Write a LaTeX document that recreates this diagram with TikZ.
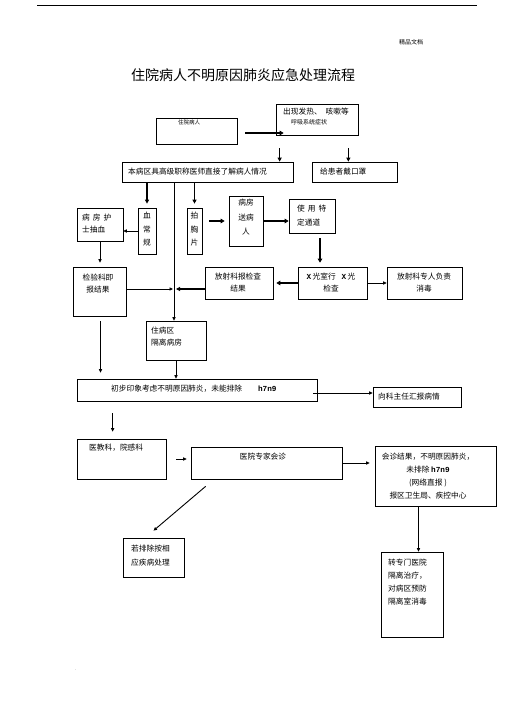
\documentclass[tikz,border=0pt]{standalone}
\usepackage{fontspec}
\newfontfamily\cjk{Noto Sans CJK SC}
\newfontfamily\mb{Liberation Mono}
\usetikzlibrary{arrows.meta,shadows}
% a box by its top-left corner, width and height (in px of the page)
\newcommand{\bx}[5]{%
  \node[box, minimum width=#4pt, minimum height=#5pt] (#1) at ({#2+#4/2},{#3+#5/2}) {};}

\begin{document}
\begin{tikzpicture}[
    x=1pt, y=-1pt,
    box/.style={rectangle, draw=black, fill=white, line width=0.7pt, inner sep=0pt,
      drop shadow={shadow xshift=0.7pt, shadow yshift=-0.7pt, opacity=0.7, fill=black}},
    txt/.style={font=\cjk\fontsize{7.7}{#1}\selectfont, inner sep=0pt, align=left},
    txt/.default=13,
    ctr/.style={txt=#1, align=center},
    ctr/.default=13,
    arr/.style={-{Triangle[length=3.5pt,width=3.2pt]}, line width=0.7pt},
    mid/.style={-{Triangle[length=4pt,width=4pt]}, line width=1.3pt},
    fat/.style={-{Triangle[length=4pt,width=4.6pt]}, line width=2.2pt},
  ]
  \useasboundingbox (0,0) rectangle (505,714);

  %% ================= page head =================
  \draw[line width=1pt] (37,6) -- (477,6);
  \node[txt, font=\cjk\fontsize{6}{7}\selectfont] (hdr) at (411,42) {精品文档};
  \node[txt, font=\cjk\fontsize{14}{16}\selectfont] (title) at (243,75) {住院病人不明原因肺炎应急处理流程};

  %% ================= boxes =================
  \bx{zyb}{156}{118}{81}{26}
  \bx{fever}{276}{104}{82}{31}
  \bx{see}{122}{162}{171}{20}
  \bx{mask}{312}{162}{85}{20}
  \bx{nurse}{77}{208}{46}{33}
  \bx{blood}{138}{208}{18}{46}
  \bx{film}{187}{208}{15}{46}
  \bx{send}{229}{196}{34}{50}
  \bx{chan}{289}{199}{46}{34}
  \bx{xray}{298}{267}{69}{32}
  \bx{rep}{205}{267}{68}{32}
  \bx{dis}{387}{267}{75}{32}
  \bx{lab}{73}{267}{53}{49}
  \bx{ward}{146}{321}{60}{39}
  \bx{first}{77}{379}{240}{22}
  \bx{chief}{373}{387}{88}{20}
  \bx{dept}{77}{439}{89}{40}
  \bx{expert}{191}{447}{151}{32}
  \bx{result}{375}{446}{121}{60}
  \bx{excl}{123}{538}{61}{39}
  \bx{trans}{381}{552}{62}{85}

  %% ================= texts =================
  \node[txt, font=\cjk\fontsize{5.5}{7}\selectfont, anchor=west] (zybT) at (178,122) {住院病人};
  \node[txt, anchor=west] (feverA) at (283,112) {出现发热、\hspace{4pt}咳嗽等};
  \node[txt, font=\cjk\fontsize{6}{7}\selectfont, anchor=west] (feverB) at (291,122) {呼吸系统症状};
  \node[txt, anchor=west] (seeT) at (128,172) {本病区具高级职称医师直接了解病人情况};
  \node[txt, anchor=west] (maskT) at (320,172) {给患者戴口罩};
  \node[txt=12, anchor=west] (nurseT) at (82,224) {病\hspace{3pt}房\hspace{3pt}护\\士抽血};
  \node[ctr=13.5] (bloodT) at (147,229.5) {血\\常\\规};
  \node[ctr=13.5] (filmT) at (194.5,229.5) {拍\\胸\\片};
  \node[ctr=14.5] (sendT) at (246,217.5) {病房\\送病\\人};
  \node[txt=14, anchor=west] (chanT) at (297,216) {使\hspace{3pt}用\hspace{3pt}特\\定通道};
  \node[ctr=12] (xrayT) at (331,283) {{\mb\bfseries X}\,光室行\hspace{6pt}{\mb\bfseries X}\,光\\检查};
  \node[ctr=12] (repT) at (238,283) {放射科报检查\\结果};
  \node[ctr=12] (disT) at (424,283) {放射科专人负责\\消毒};
  \node[ctr=11.5] (labT) at (98,283.5) {检验科即\\报结果};
  \node[txt=12, anchor=west] (wardT) at (151,337) {住病区\\隔离病房};
  \node[txt, anchor=west] (firstT) at (111,389)
    {初步印象考虑不明原因肺炎，未能排除\hspace{16pt}{\mb\bfseries h7n9}};
  \node[txt, anchor=west] (chiefT) at (378,397) {向科主任汇报病情};
  \node[txt, anchor=west] (deptT) at (89,448) {医教科，院感科};
  \node[txt] (expertT) at (263,457) {医院专家会诊};
  \node[ctr] (resultT) at (428,476.5)
    {会诊结果，不明原因肺炎，\\未排除 {\mb\bfseries h7n9}\\(网络直报 )\\报区卫生局、疾控中心};
  \node[txt=14, anchor=west] (exclT) at (131,556) {若排除按相\\应疾病处理};
  \node[txt, anchor=west] (transT) at (388,582.5) {转专门医院\\隔离治疗，\\对病区预防\\隔离室消毒};
  \node[txt, font=\fontsize{4}{5}\selectfont] (dot) at (76,670) {.};

  %% ================= connectors =================
  \coordinate (jn) at (174,289);
  \draw[fat] ([xshift=8pt,yshift=-2pt]zyb.east) -- ([xshift=8pt,yshift=-2pt]zyb.east -| fever.west);
  \draw[mid] ([xshift=4pt,yshift=-13pt]fever.south west) -- ([xshift=4pt]fever.south west |- see.north);
  \draw[mid] ([xshift=-10pt,yshift=-13pt]fever.south east) -- ([xshift=-10pt]fever.south east |- mask.north);

  \draw[mid] (see.south -| blood.north) -- ([yshift=4pt]blood.north);
  \draw[mid] (see.south -| film.north) -- ([yshift=4pt]film.north);
  \draw[arr, line width=1pt] (see.south -| jn) -- (jn |- ward.north);
  \draw[arr] (blood.west) -- (blood.west -| nurse.east);
  \draw[fat] ([xshift=7pt]film.east |- send.west) -- ([xshift=-4pt]send.west);
  \draw[fat] (send.east) -- (send.east -| chan.west);
  \draw[fat] ([xshift=8pt,yshift=-5pt]chan.south) -- ([xshift=8pt,yshift=4pt]chan.south |- xray.north);
  \draw[fat] (xray.west) -- ([xshift=3pt]xray.west -| rep.east);
  \draw[arr] (xray.east) -- (xray.east -| dis.west);
  \draw[mid] (rep.west |- jn) -- ([xshift=2pt]jn);
  \draw[arr, line width=0.8pt] (nurse.south) -- ([yshift=4pt]nurse.south |- lab.north);
  \draw[arr] (lab.east |- jn) -- ([xshift=-1pt]jn);
  \draw[arr, line width=0.8pt] ([xshift=1pt,yshift=-5pt]lab.south) -- ([xshift=1pt,yshift=6pt]lab.south |- first.north);
  \draw[arr, line width=0.8pt] (ward.south) -- (ward.south |- first.north);

  \draw[arr, line width=0.9pt] ([xshift=-4pt,yshift=-3pt]first.east) -- ([yshift=-3pt]first.east -| chief.west);
  \draw[arr] ([xshift=36pt,yshift=-12pt]first.south west) -- ([xshift=36pt,yshift=7pt]first.south west |- dept.north);
  \draw[arr] ([xshift=10pt]dept.east) -- ([xshift=-4pt]dept.east -| expert.west);
  \draw[arr, line width=0.9pt] (expert.east) -- ([xshift=-5pt]expert.east -| result.west);
  \draw[arr, line width=0.9pt] ([xshift=15pt,yshift=-7pt]expert.south west) -- ([yshift=7pt]excl.north);
  \draw[arr, line width=0.9pt] ([xshift=-17pt]result.south) -- ([xshift=-17pt]result.south |- trans.north);
\end{tikzpicture}
\end{document}
